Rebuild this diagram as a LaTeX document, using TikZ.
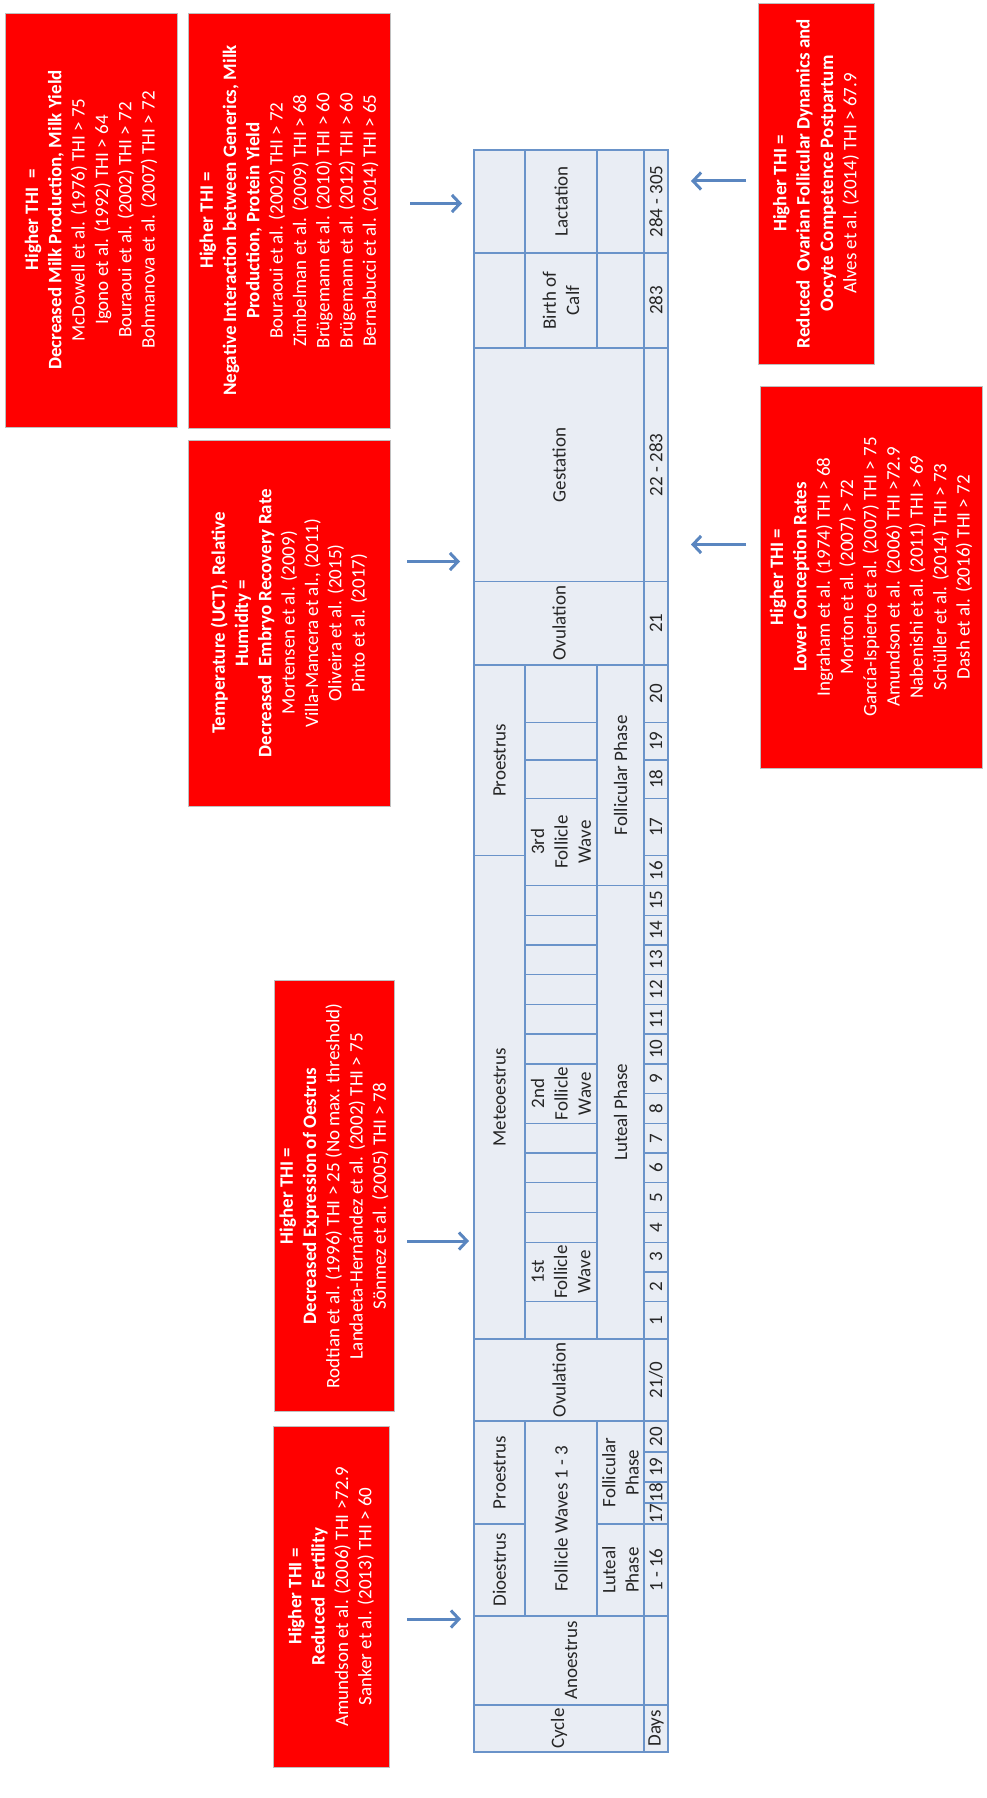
\documentclass[tikz,border=0pt]{standalone}
\usepackage{fontspec}
\setmainfont{Carlito}
\usetikzlibrary{arrows.meta}
\definecolor{cellfill}{HTML}{E9EDF4}
\definecolor{cellline}{HTML}{6A93C9}
\definecolor{arrowblue}{HTML}{5A86C0}
\definecolor{boxred}{HTML}{FF0000}
\newcommand\tabfont{\fontsize{19}{23.3}\selectfont}
\newcommand\boxfont{\fontsize{19}{23.3}\selectfont}
\newcommand\tcell[6]{\draw[cellbox] (#2,#3) rectangle (#4,#5); \node[celltext] (#1) at ({(#2+#4)/2},{(#3+#5)/2}) {#6};}
\newcommand\ecell[4]{\draw[cellbox] (#1,#2) rectangle (#3,#4);}
\tikzset{
  cellbox/.style={draw=cellline, fill=cellfill, line width=1.3pt},
  heavyrule/.style={draw=cellline, line width=2.6pt},
  celltext/.style={rotate=90, font=\tabfont, align=center, inner sep=0pt, text=black!85},
  redbox/.style={rotate=90, fill=boxred, draw=black!25, line width=0.8pt, text=white, align=center, font=\boxfont, inner sep=0pt},
  thiarrow/.style={draw=arrowblue, line width=3pt, -{Straight Barb[length=8pt,width=17pt]}}
}
\begin{document}
\begin{tikzpicture}[x=1pt,y=-1pt]
\fill[white] (0,0) rectangle (986,1798);
\useasboundingbox (0,0) rectangle (986,1798);

% ---------- table ----------
% bottom: Cycle / Days
\tcell{cycle}{474}{1705}{644}{1752}{Cycle}
\tcell{days}{644}{1705}{668}{1752}{Days}
% Anoestrus
\draw[cellbox] (474,1616) rectangle (644,1705);
\node[celltext] (anoestrus) at (571,1660.5) {Anoestrus};
\ecell{644}{1616}{668}{1705}
% first oestrous cycle (anoestrus exit)
\tcell{dioestrus}{474}{1524}{525}{1616}{Dioestrus}
\tcell{proestrusA}{474}{1421}{525}{1524}{Proestrus}
\tcell{fwaves}{525}{1421}{597}{1616}{Follicle Waves 1 - 3}
\tcell{lutealA}{597}{1524}{644}{1616}{Luteal\\Phase}
\tcell{follicularA}{597}{1421}{644}{1524}{Follicular\\Phase}
\tcell{dA}{644}{1524}{668}{1616}{1 - 16}
\tcell{dA17}{644}{1503}{668}{1524}{17}
\tcell{dA18}{644}{1482}{668}{1503}{18}
\tcell{dA19}{644}{1452}{668}{1482}{19}
\tcell{dA20}{644}{1421}{668}{1452}{20}
% ovulation 1
\tcell{ovulationA}{474}{1339}{644}{1421}{Ovulation}
\tcell{dOv}{644}{1339}{668}{1421}{21/0}
% second cycle
\tcell{meteoestrus}{474}{855.75}{525}{1339}{Meteoestrus}
\tcell{luteal}{597}{885.48}{644}{1339}{Luteal Phase}
\ecell{525}{1301.7}{597}{1339}
\tcell{fw1}{525}{1242.24}{597}{1301.7}{1st\\Follicle\\Wave}
\foreach \k in {4,...,7}{
  \pgfmathsetmacro\ya{1301.7-(\k-2)*29.73}
  \pgfmathsetmacro\yb{1301.7-(\k-1)*29.73}
  \ecell{525}{\yb}{597}{\ya}
}
\tcell{fw2}{525}{1063.86}{597}{1123.32}{2nd\\Follicle\\Wave}
\foreach \k in {10,...,15}{
  \pgfmathsetmacro\ya{1301.7-(\k-2)*29.73}
  \pgfmathsetmacro\yb{1301.7-(\k-1)*29.73}
  \ecell{525}{\yb}{597}{\ya}
}
\tcell{d1}{644}{1301.7}{668}{1339}{1}
\foreach \k in {2,...,16}{
  \pgfmathsetmacro\ya{1301.7-(\k-2)*29.73}
  \pgfmathsetmacro\yb{1301.7-(\k-1)*29.73}
  \tcell{d\k}{644}{\yb}{668}{\ya}{\k}
}
\tcell{proestrusB}{474}{665}{525}{855.75}{Proestrus}
\tcell{fw3}{525}{798.3}{597}{885.48}{3rd\\Follicle\\Wave}
\ecell{525}{760}{597}{798.3}
\ecell{525}{722.3}{597}{760}
\ecell{525}{665}{597}{722.3}
\tcell{follicular}{597}{665}{644}{885.48}{Follicular Phase}
\tcell{d17}{644}{798.3}{668}{855.75}{17}
\tcell{d18}{644}{760}{668}{798.3}{18}
\tcell{d19}{644}{722.3}{668}{760}{19}
\tcell{d20}{644}{665}{668}{722.3}{20}
% ovulation 2
\tcell{ovulationB}{474}{581.7}{644}{665}{Ovulation}
\tcell{d21}{644}{581.7}{668}{665}{21}
% gestation
\tcell{gestation}{474}{348}{644}{581.7}{Gestation}
\tcell{dGest}{644}{348}{668}{581.7}{22 - 283}
% birth of calf
\ecell{474}{253}{525}{348}
\tcell{birth}{525}{253}{597}{348}{Birth of\\Calf}
\ecell{597}{253}{644}{348}
\tcell{dBirth}{644}{253}{668}{348}{283}
% lactation
\ecell{474}{150}{525}{253}
\tcell{lactation}{525}{150}{597}{253}{Lactation}
\ecell{597}{150}{644}{253}
\tcell{dLact}{644}{150}{668}{253}{284 - 305}
% heavier rules bounding the follicle-wave rows
\draw[heavyrule] (525,665) -- (525,1339);
\draw[heavyrule] (597,665) -- (597,1339);
\draw[heavyrule] (525,1421) -- (525,1616);
\draw[heavyrule] (597,1421) -- (597,1616);

% ---------- red boxes ----------
\node[redbox, minimum width=341pt, minimum height=116pt] (fertility) at (331,1596.5)
  {\textbf{Higher THI =}\\ \textbf{Reduced\ \ Fertility}\\ Amundson et al. (2006) THI >72.9\\ Sanker et al. (2013) THI > 60};
\node[redbox, minimum width=431pt, minimum height=120pt] (oestrus) at (334,1196)
  {\textbf{Higher THI =}\\ \textbf{Decreased Expression of Oestrus}\\ Rodtian et al. (1996) THI > 25 (No max. threshold)\\ Landaeta-Hernández et al. (2002) THI > 75\\ Sönmez et al. (2005) THI > 78};
\node[redbox, minimum width=366pt, minimum height=202pt] (embryo) at (289,623)
  {\textbf{Temperature (UCT), Relative}\\ \textbf{Humidity =}\\ \textbf{Decreased\ \ Embryo Recovery Rate}\\ Mortensen et al. (2009)\\ Villa-Mancera et al., (2011)\\ Oliveira et al. (2015)\\ Pinto et al. (2017)};
\node[redbox, minimum width=415pt, minimum height=202pt] (genetics) at (289,220.5)
  {\textbf{Higher THI =}\\ \textbf{Negative Interaction between Generics, Milk}\\ \textbf{Production, Protein Yield}\\ Bouraoui et al. (2002) THI > 72\\ Zimbelman et al. (2009) THI > 68\\ Brügemann et al. (2010) THI > 60\\ Brügemann et al. (2012) THI > 60\\ Bernabucci et al. (2014) THI > 65};
\node[redbox, minimum width=414pt, minimum height=172pt] (milk) at (91,220)
  {\textbf{Higher THI\ \ =}\\ \textbf{Decreased Milk Production, Milk Yield}\\ McDowell et al. (1976) THI > 75\\ Igono et al. (1992) THI > 64\\ Bouraoui et al. (2002) THI > 72\\ Bohmanova et al. (2007) THI > 72};
\node[redbox, minimum width=382pt, minimum height=222pt] (conception) at (871,577)
  {\textbf{Higher THI =}\\ \textbf{Lower Conception Rates}\\ Ingraham et al. (1974) THI > 68\\ Morton et al. (2007) > 72\\ García-Ispierto et al. (2007) THI > 75\\ Amundson et al. (2006) THI >72.9\\ Nabenishi et al. (2011) THI > 69\\ Schüller et al. (2014) THI > 73\\ Dash et al. (2016) THI > 72};
\node[redbox, minimum width=361pt, minimum height=116pt] (ovarian) at (816,183.5)
  {\textbf{Higher THI =}\\ \textbf{Reduced\ \ Ovarian Follicular Dynamics and}\\ \textbf{Oocyte Competence Postpartum}\\ Alves et al. (2014) THI > 67.9};

% ---------- arrows ----------
\coordinate (a1s) at (407,1619); \coordinate (a1e) at (461,1619);
\coordinate (a2s) at (407,1241); \coordinate (a2e) at (469,1241);
\coordinate (a3s) at (407,561.5); \coordinate (a3e) at (460,561.5);
\coordinate (a4s) at (410,203.5); \coordinate (a4e) at (462,203.5);
\coordinate (a5s) at (746,181); \coordinate (a5e) at (691,181);
\coordinate (a6s) at (746,544.5); \coordinate (a6e) at (691,544.5);
\draw[thiarrow] (a1s) -- (a1e);
\draw[thiarrow] (a2s) -- (a2e);
\draw[thiarrow] (a3s) -- (a3e);
\draw[thiarrow] (a4s) -- (a4e);
\draw[thiarrow] (a5s) -- (a5e);
\draw[thiarrow] (a6s) -- (a6e);
\end{tikzpicture}
\end{document}
